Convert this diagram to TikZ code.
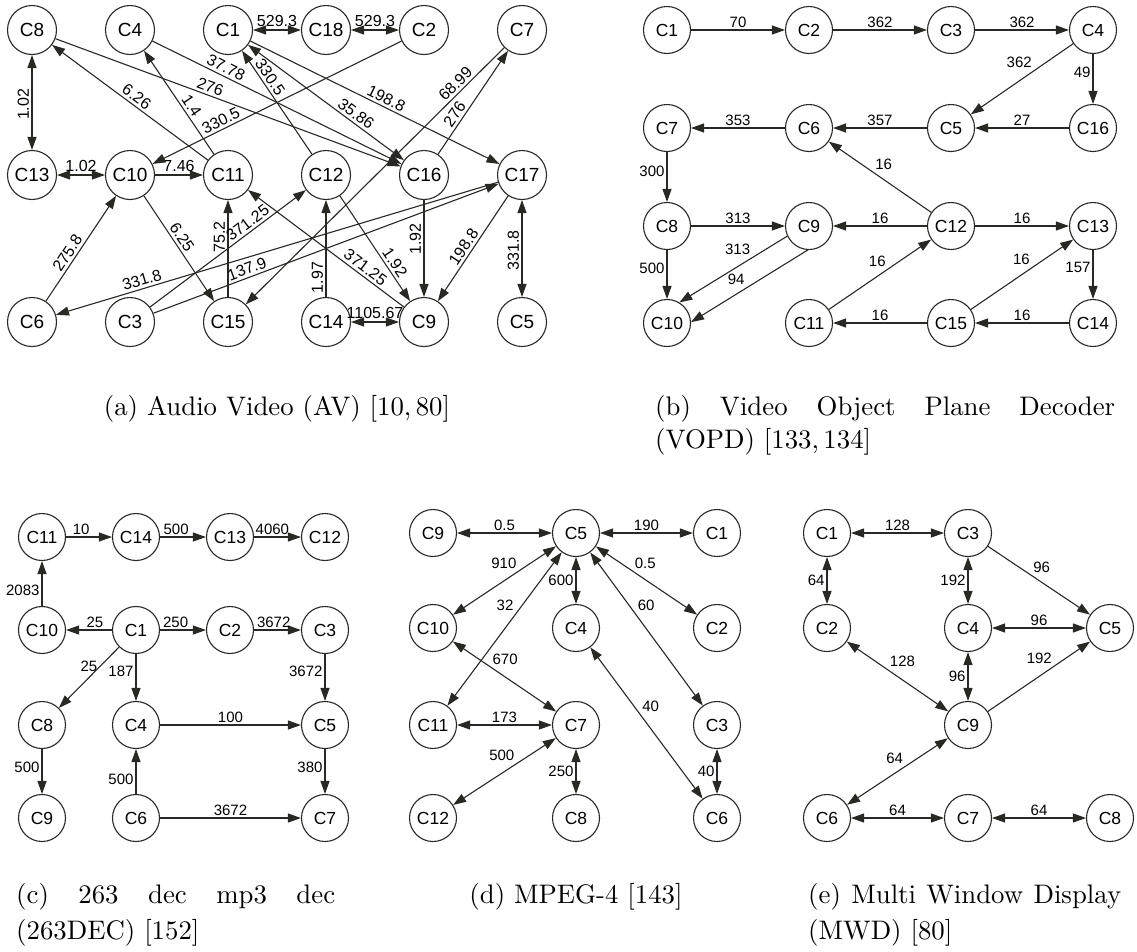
\documentclass[tikz,border=0pt]{standalone}
\usepackage{fontspec}
\usetikzlibrary{arrows.meta}
\newfontfamily\hv{Liberation Sans}
\newfontfamily\capfont{lmroman10-regular.otf}
\definecolor{ln}{RGB}{40,40,36}
\tolerance=10000
\hyphenpenalty=10000
\begin{document}
\begin{tikzpicture}[x=1pt,y=-1pt,
 nda/.style={circle, draw=ln, line width=1.1pt, minimum size=49pt, inner sep=0pt, font=\hv\fontsize{19}{19}\selectfont},
 nd/.style={circle, draw=ln, line width=1.1pt, minimum size=47pt, inner sep=0pt, font=\hv\fontsize{17.5}{17.5}\selectfont},
 ed/.style={draw=ln, line width=1.1pt},
 uni/.style={ed, -{Triangle[length=13pt,width=9pt]}},
 bi/.style={ed, {Triangle[length=13pt,width=9pt]}-{Triangle[length=13pt,width=9pt]}},
 rev/.style={ed, {Triangle[length=13pt,width=9pt]}-},
 la/.style={font=\hv\fontsize{16}{16}\selectfont, inner sep=2.5pt},
 lb/.style={font=\hv\fontsize{15}{15}\selectfont, inner sep=2pt},
 vl/.style={rotate=90, anchor=south},
 captop/.style={font=\capfont\fontsize{26.8}{33}\selectfont, inner sep=0pt},
 capbot/.style={font=\capfont\fontsize{26.8}{36}\selectfont, inner sep=0pt},
]
\useasboundingbox (0,0) rectangle (1137,951);

% ---------------- (a) AV ----------------
\node[nda] (a8) at (32,30) {C8};
\node[nda] (a4) at (130,30) {C4};
\node[nda] (a1) at (228,30) {C1};
\node[nda] (a18) at (326,30) {C18};
\node[nda] (a2) at (424,30) {C2};
\node[nda] (a7) at (522,30) {C7};
\node[nda] (a13) at (32,175) {C13};
\node[nda] (a10) at (130,175) {C10};
\node[nda] (a11) at (228,175) {C11};
\node[nda] (a12) at (326,175) {C12};
\node[nda] (a16) at (424,175) {C16};
\node[nda] (a17) at (522,175) {C17};
\node[nda] (a6) at (32,322) {C6};
\node[nda] (a3) at (130,322) {C3};
\node[nda] (a15) at (228,322) {C15};
\node[nda] (a14) at (326,322) {C14};
\node[nda] (a9) at (424,322) {C9};
\node[nda] (a5) at (522,322) {C5};

\draw[bi] (a1) -- node[la,above] (t1) {529.3} (a18);
\draw[bi] (a18) -- node[la,above] (t2) {529.3} (a2);
\draw[bi] (a13) -- node[la,vl,pos=.48] (t3) {1.02} (a8);
\draw[bi] (a13) -- node[la,above] (t4) {1.02} (a10);
\draw[uni] (a10) -- node[la,above] (t5) {7.46} (a11);
\draw[uni] (a8) -- node[la,sloped,above,pos=.44] (t6) {276} (a16);
\draw[uni] (a4) -- node[la,sloped,above,pos=.28] (t7) {37.78} (a16);
\draw[bi] (a1) -- node[la,sloped,above,pos=.66] (t8) {35.86} (a16);
\draw[uni] (a1) -- node[la,sloped,above,pos=.53] (t9) {198.8} (a17);
\draw[uni] (a11) -- node[la,sloped,above,pos=.49] (t10) {6.26} (a8);
\draw[uni] (a11) -- node[la,sloped,above,pos=.42] (t11) {1.4} (a4);
\draw[uni] (a2) -- node[la,sloped,above,pos=.71] (t12) {330.5} (a10);
\draw[uni] (a12) -- node[la,sloped,above,pos=.70] (t13) {330.5} (a1);
\draw[uni] (a7) -- node[la,sloped,above,pos=.165] (t14) {68.99} (a15);
\draw[uni] (a16) -- node[la,sloped,above,pos=.34] (t15) {276} (a7);
\draw[uni] (a10) -- node[la,sloped,above,pos=.44] (t16) {6.25} (a15);
\draw[uni] (a15) -- node[la,vl,pos=.62] (t17) {75.2} (a11);
\draw[uni] (a3) -- node[la,sloped,above,pos=.66] (t18) {371.25} (a12);
\draw[uni] (a3) -- node[la,sloped,above,pos=.28] (t19) {137.9} (a17);
\draw[uni] (a17) -- node[la,sloped,above,pos=.80] (t20) {331.8} (a6);
\draw[uni] (a6) -- node[la,sloped,above,pos=.41] (t21) {275.8} (a10);
\draw[uni] (a9) -- node[la,sloped,above,pos=.28] (t22) {371.25} (a11);
\draw[uni] (a12) -- node[la,sloped,above,pos=.68] (t23) {1.92} (a9);
\draw[rev] (a9) -- node[la,vl,pos=.6] (t24) {1.92} (a16);
\draw[uni] (a14) -- node[la,vl,pos=.2] (t25) {1.97} (a12);
\draw[uni] (a17) -- node[la,sloped,above,pos=.53] (t26) {198.8} (a9);
\draw[bi] (a5) -- node[la,vl,pos=.48] (t27) {331.8} (a17);
\draw[bi] (a14) -- node[la,above] (t28) {1105.67} (a9);

% ---------------- (b) VOPD ----------------
\node[nd] (b1) at (667,30) {C1};
\node[nd] (b2) at (809,30) {C2};
\node[nd] (b3) at (951,30) {C3};
\node[nd] (b4) at (1093,30) {C4};
\node[nd] (b7) at (667,128) {C7};
\node[nd] (b6) at (809,128) {C6};
\node[nd] (b5) at (951,128) {C5};
\node[nd] (b16) at (1093,128) {C16};
\node[nd] (b8) at (667,226) {C8};
\node[nd] (b9) at (809,226) {C9};
\node[nd] (b12) at (951,226) {C12};
\node[nd] (b13) at (1093,226) {C13};
\node[nd] (b10) at (667,323) {C10};
\node[nd] (b11) at (809,323) {C11};
\node[nd] (b15) at (951,323) {C15};
\node[nd] (b14) at (1093,323) {C14};

\draw[uni] (b1) -- node[lb,above] (u1) {70} (b2);
\draw[uni] (b2) -- node[lb,above] (u2) {362} (b3);
\draw[uni] (b3) -- node[lb,above] (u3) {362} (b4);
\draw[uni] (b4) -- node[lb,above left,pos=.38] (u4) {362} (b5);
\draw[uni] (b4) -- node[lb,left,pos=.36] (u5) {49} (b16);
\draw[uni] (b16) -- node[lb,above] (u6) {27} (b5);
\draw[uni] (b5) -- node[lb,above] (u7) {357} (b6);
\draw[uni] (b6) -- node[lb,above] (u8) {353} (b7);
\draw[uni] (b7) -- node[lb,left,pos=.38] (u9) {300} (b8);
\draw[uni] (b12) -- node[lb,above right,pos=.57] (u10) {16} (b6);
\draw[uni] (b8) -- node[lb,above] (u11) {313} (b9);
\draw[uni] (b8) -- node[lb,left,pos=.38] (u12) {500} (b10);
\draw[uni] (b9.205) -- node[lb,above left,pos=.32] (u13) {313} (b10.59);
\draw[uni] (b9.267) -- node[lb,above left,pos=.52] (u14) {94} (b10.2);
\draw[uni] (b12) -- node[lb,above] (u15) {16} (b9);
\draw[uni] (b12) -- node[lb,above] (u16) {16} (b13);
\draw[uni] (b11) -- node[lb,above left,pos=.58] (u17) {16} (b12);
\draw[uni] (b15) -- node[lb,above left,pos=.6] (u18) {16} (b13);
\draw[uni] (b13) -- node[lb,left,pos=.36] (u19) {157} (b14);
\draw[uni] (b14) -- node[lb,above] (u20) {16} (b15);
\draw[uni] (b15) -- node[lb,above] (u21) {16} (b11);

% ---------------- (c) 263DEC ----------------
\node[nd] (c11) at (42,537) {C11};
\node[nd] (c14) at (136,537) {C14};
\node[nd] (c13) at (230,537) {C13};
\node[nd] (c12) at (325,537) {C12};
\node[nd] (c10) at (42,630) {C10};
\node[nd] (c1) at (136,630) {C1};
\node[nd] (c2) at (230,630) {C2};
\node[nd] (c3) at (325,630) {C3};
\node[nd] (c8) at (42,725) {C8};
\node[nd] (c4) at (136,725) {C4};
\node[nd] (c5) at (325,725) {C5};
\node[nd] (c9) at (42,818) {C9};
\node[nd] (c6) at (136,818) {C6};
\node[nd] (c7) at (325,818) {C7};

\draw[uni] (c11) -- node[lb,above,pos=.33] (v1) {10} (c14);
\draw[uni] (c14) -- node[lb,above,pos=.35] (v2) {500} (c13);
\draw[uni] (c13) -- node[lb,above,pos=.39] (v3) {4060} (c12);
\draw[uni] (c10) -- node[lb,left,pos=.35] (v4) {2083} (c11);
\draw[uni] (c1) -- node[lb,above,pos=.37] (v5) {25} (c10);
\draw[uni] (c1) -- node[lb,above,pos=.34] (v6) {250} (c2);
\draw[uni] (c2) -- node[lb,above,pos=.42] (v7) {3672} (c3);
\draw[uni] (c3) -- node[lb,left,pos=.37] (v8) {3672} (c5);
\draw[uni] (c1) -- node[lb,left,pos=.32] (v9) {25} (c8);
\draw[uni] (c1) -- node[lb,left,pos=.37] (v10) {187} (c4);
\draw[uni] (c4) -- node[lb,above] (v11) {100} (c5);
\draw[uni] (c5) -- node[lb,left,pos=.4] (v12) {380} (c7);
\draw[uni] (c6) -- node[lb,left,pos=.32] (v13) {500} (c4);
\draw[uni] (c6) -- node[lb,above] (v14) {3672} (c7);
\draw[uni] (c8) -- node[lb,left,pos=.4] (v15) {500} (c9);

% ---------------- (d) MPEG-4 ----------------
\node[nd] (d9) at (433,533) {C9};
\node[nd] (d5) at (576,533) {C5};
\node[nd] (d1) at (717,533) {C1};
\node[nd] (d10) at (433,628) {C10};
\node[nd] (d4) at (576,628) {C4};
\node[nd] (d2) at (717,628) {C2};
\node[nd] (d11) at (433,725) {C11};
\node[nd] (d7) at (576,725) {C7};
\node[nd] (d3) at (717,725) {C3};
\node[nd] (d12) at (433,818) {C12};
\node[nd] (d8) at (576,818) {C8};
\node[nd] (d6) at (717,818) {C6};

\draw[bi] (d9) -- node[lb,above] (w1) {0.5} (d5);
\draw[bi] (d5) -- node[lb,above] (w2) {190} (d1);
\draw[bi] (d5) -- node[lb,above left,pos=.36] (w3) {910} (d10);
\draw[bi] (d5) -- node[lb,above right,pos=.36] (w4) {0.5} (d2);
\draw[bi] (d5) -- node[lb,left] (w5) {600} (d4);
\draw[bi] (d5) -- node[lb,above left,pos=.40] (w6) {32} (d11);
\draw[bi] (d5) -- node[lb,above right,pos=.40] (w7) {60} (d3);
\draw[bi] (d10) -- node[lb,above right,pos=.36] (w8) {670} (d7);
\draw[bi] (d11) -- node[lb,above] (w9) {173} (d7);
\draw[bi] (d7) -- node[lb,above left,pos=.38] (w10) {500} (d12);
\draw[bi] (d7) -- node[lb,left] (w11) {250} (d8);
\draw[bi] (d4) -- node[lb,above right,pos=.44] (w12) {40} (d6);
\draw[bi] (d3) -- node[lb,left] (w13) {40} (d6);

% ---------------- (e) MWD ----------------
\node[nd] (e1) at (827,533) {C1};
\node[nd] (e3) at (968,533) {C3};
\node[nd] (e2) at (827,628) {C2};
\node[nd] (e4) at (968,628) {C4};
\node[nd] (e5) at (1110,628) {C5};
\node[nd] (e9) at (968,725) {C9};
\node[nd] (e6) at (827,818) {C6};
\node[nd] (e7) at (968,818) {C7};
\node[nd] (e8) at (1110,818) {C8};

\draw[bi] (e1) -- node[lb,above] (x1) {128} (e3);
\draw[bi] (e1) -- node[lb,left] (x2) {64} (e2);
\draw[bi] (e3) -- node[lb,left] (x3) {192} (e4);
\draw[uni] (e3) -- node[lb,above right,pos=.42] (x4) {96} (e5);
\draw[bi] (e4) -- node[lb,above] (x5) {96} (e5);
\draw[bi] (e2) -- node[lb,above right,pos=.40] (x6) {128} (e9);
\draw[bi] (e4) -- node[lb,left] (x7) {96} (e9);
\draw[uni] (e9) -- node[lb,above left,pos=.65] (x8) {192} (e5);
\draw[bi] (e9) -- node[lb,above left,pos=.42] (x9) {64} (e6);
\draw[bi] (e6) -- node[lb,above] (x10) {64} (e7);
\draw[bi] (e7) -- node[lb,above] (x11) {64} (e8);

% ---------------- captions ----------------
\node[captop, anchor=base] (capa) at (277,415) {(a) Audio Video (AV) [10,\thinspace 80]};
\node[captop, anchor=base west, text width=460pt, align=justify] (capb) at (655,415) {(b) Video Object Plane Decoder\linebreak (VOPD) [133,\thinspace 134]};
\node[capbot, anchor=base west, text width=319pt, align=justify] (capc) at (16,903) {(c) 263 dec mp3 dec\linebreak (263DEC) [152]};
\node[capbot, anchor=base] (capd) at (576,903) {(d) MPEG-4 [143]};
\node[capbot, anchor=base west, text width=313pt, align=justify] (cape) at (808,903) {(e) Multi Window Display\linebreak (MWD) [80]};
\end{tikzpicture}
\end{document}
